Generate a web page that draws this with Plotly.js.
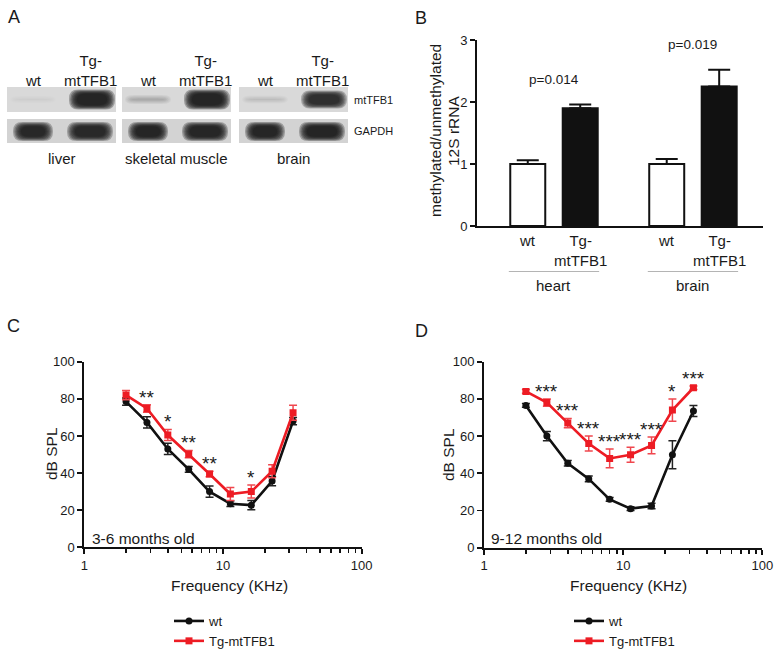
<!DOCTYPE html>
<html><head><meta charset="utf-8">
<script src="https://cdn.plot.ly/plotly-3.0.1.min.js"></script>
<style>html,body{margin:0;padding:0;background:#fff}#chart{width:779px;height:668px}</style>
</head><body><div id="chart"></div>
<script>
// ---------- Panel A: western blot band intensities (0 = none, 1 = saturated) ----------
const blotTissues = ['liver', 'skeletal muscle', 'brain'];
const blotLanes = ['wt', 'Tg-<br>mtTFB1'];
const blotProteins = ['mtTFB1', 'GAPDH'];
const mtTFB1_wt = [0.03, 0.14, 0.07];
const mtTFB1_tg = [1.0, 1.0, 0.85];
const gapdh_wt = [0.92, 0.97, 0.95];
const gapdh_tg = [0.9, 0.95, 0.97];

// ---------- Panel B: methylated/unmethylated 12S rRNA ----------
const rnaTissues = ['heart', 'brain'];
const rnaGenotypes = ['wt', 'Tg-<br>mtTFB1'];
const rna_wt = [1.0, 1.0];
const rna_wt_err = [0.06, 0.08];
const rna_tg = [1.9, 2.25];
const rna_tg_err = [0.06, 0.27];
const rna_p = ['p=0.014', 'p=0.019'];

// ---------- Panels C & D: ABR thresholds ----------
const freqKHz = [2, 2.83, 4, 5.66, 8, 11.3, 16, 22.6, 32];
const C_wt = [78.5, 67.3, 53, 42, 30, 23.5, 22.7, 35.7, 68];
const C_wt_err = [2, 3, 3, 1.5, 3, 1.5, 2.5, 2.5, 2];
const C_tg = [82, 74.8, 60.5, 50.2, 39.5, 28.7, 30, 41, 72.5];
const C_tg_err = [2.5, 2, 3, 2, 1.5, 3.5, 3.5, 3.5, 4];
const C_stars = ['', '**', '*', '**', '**', '', '*', '', ''];
const D_wt = [76.5, 60, 45.4, 37, 26, 21, 22.4, 50, 73.5];
const D_wt_err = [1, 2.5, 1.5, 1.5, 1, 1, 1.5, 7.5, 3];
const D_tg = [84, 78, 67, 56, 48, 50, 55, 74, 86];
const D_tg_err = [1, 2, 2.5, 4, 5, 4, 4.5, 6, 1];
const D_stars = ['', '***', '***', '***', '***', '***', '***', '*', '***'];
const seriesNames = ['wt', 'Tg-mtTFB1'];

// ---------- helpers ----------
const W = 779, H = 668;
const PX = x => x / W;
const PY = y => 1 - y / H;
const FONT = 'Liberation Sans, Arial, Helvetica, sans-serif';
const TXT = '#1a1a1a';
const RED = '#ed1c24';
const annotations = [];
const shapes = [];
function label(text, x, y, size, opts) {
  annotations.push(Object.assign({
    text: text, x: PX(x), y: PY(y), xref: 'paper', yref: 'paper',
    showarrow: false, xanchor: 'center', yanchor: 'middle',
    font: {family: FONT, size: size, color: TXT}
  }, opts || {}));
}

// ---------- Panel A drawing ----------
const stripLeft = [7, 122, 239];
const stripWidth = 109;
const laneOffset = [26, 83];
const rowTop = [87, 119];
const rowHeight = [25, 24];
const rowBg = ['#d9d9d9', '#d3d3d3'];
function roundRect(x0, y0, x1, y1, r) {
  const X = PX, Y = PY;
  const rx = Math.min(r, (x1 - x0) / 2), ry = Math.min(r, (y1 - y0) / 2);
  return 'M' + X(x0 + rx) + ',' + Y(y0) + ' L' + X(x1 - rx) + ',' + Y(y0) +
    ' Q' + X(x1) + ',' + Y(y0) + ' ' + X(x1) + ',' + Y(y0 + ry) +
    ' L' + X(x1) + ',' + Y(y1 - ry) +
    ' Q' + X(x1) + ',' + Y(y1) + ' ' + X(x1 - rx) + ',' + Y(y1) +
    ' L' + X(x0 + rx) + ',' + Y(y1) +
    ' Q' + X(x0) + ',' + Y(y1) + ' ' + X(x0) + ',' + Y(y1 - ry) +
    ' L' + X(x0) + ',' + Y(y0 + ry) +
    ' Q' + X(x0) + ',' + Y(y0) + ' ' + X(x0 + rx) + ',' + Y(y0) + ' Z';
}
function band(cx, cy, w, h, intensity) {
  if (intensity <= 0) return;
  const layers = 7;
  for (let k = 0; k < layers; k++) {
    const inset = k * 1.3;
    shapes.push({
      type: 'path', xref: 'paper', yref: 'paper', layer: 'above',
      path: roundRect(cx - w / 2 + inset, cy - h / 2 + inset * 0.55, cx + w / 2 - inset, cy + h / 2 - inset * 0.55, 9),
      fillcolor: 'rgba(22,22,22,' + (0.3 * intensity).toFixed(3) + ')',
      line: {width: 0}
    });
  }
}
const bandData = [[mtTFB1_wt, mtTFB1_tg], [gapdh_wt, gapdh_tg]];
blotTissues.forEach((t, i) => {
  const left = stripLeft[i];
  blotProteins.forEach((p, r) => {
    shapes.push({type: 'rect', xref: 'paper', yref: 'paper', layer: 'above',
      x0: PX(left), x1: PX(left + stripWidth), y0: PY(rowTop[r]), y1: PY(rowTop[r] + rowHeight[r]),
      fillcolor: rowBg[r], line: {width: 0}});
    blotLanes.forEach((lane, l) => {
      const v = bandData[r][l][i];
      const cx = left + laneOffset[l] + (r === 0 && l === 1 ? 2 : 0);
      const cy = rowTop[r] + rowHeight[r] / 2 + (r === 0 ? 0 : 0.5);
      const w = r === 0 ? 46 : (l === 0 ? 40 : 46);
      const h = r === 0 ? (7 + 13 * v) : 19;
      band(cx, cy, w, h, v);
    });
  });
  blotLanes.forEach((lane, l) => {
    const cx = left + laneOffset[l];
    if (l === 0) label(lane, cx, 80, 15);
    else label(lane, cx, 71, 15);
  });
  label(t, left + stripWidth / 2, 158, 15);
});
label(blotProteins[0], 352, 100, 11, {xanchor: 'left'});
label(blotProteins[1], 352, 131, 11, {xanchor: 'left'});

// ---------- Panel labels ----------
label('A', 14, 17, 18);
label('B', 421, 18, 18);
label('C', 13, 326, 18);
label('D', 421, 331, 18);

// ---------- Panel B ----------
const traces = [];
traces.push({type: 'bar', x: rnaTissues, y: rna_wt, name: rnaGenotypes[0], xaxis: 'x2', yaxis: 'y2',
  marker: {color: '#ffffff', line: {color: '#111', width: 2}},
  error_y: {type: 'data', array: rna_wt_err, arrayminus: rna_wt.map(() => 0), symmetric: false, color: '#111', thickness: 2, width: 11},
  showlegend: false, hoverinfo: 'skip'});
traces.push({type: 'bar', x: rnaTissues, y: rna_tg, name: rnaGenotypes[1], xaxis: 'x2', yaxis: 'y2',
  marker: {color: '#111', line: {color: '#111', width: 2}},
  error_y: {type: 'data', array: rna_tg_err, arrayminus: rna_tg.map(() => 0), symmetric: false, color: '#111', thickness: 2, width: 11},
  showlegend: false, hoverinfo: 'skip'});
const groupOffset = 0.189;
rnaTissues.forEach((t, i) => {
  annotations.push({text: rnaGenotypes[0], x: i - groupOffset, xref: 'x2', y: PY(241), yref: 'paper', showarrow: false,
    yanchor: 'middle', font: {family: FONT, size: 15, color: TXT}});
  annotations.push({text: rnaGenotypes[1], x: i + groupOffset, xref: 'x2', y: PY(250.5), yref: 'paper', showarrow: false,
    yanchor: 'middle', font: {family: FONT, size: 15, color: TXT}});
  annotations.push({text: t, x: i, xref: 'x2', y: PY(285), yref: 'paper', showarrow: false,
    yanchor: 'middle', font: {family: FONT, size: 15, color: TXT}});
  shapes.push({type: 'line', xref: 'x2', yref: 'paper', x0: i - 0.325, x1: i + 0.325, y0: PY(271.5), y1: PY(271.5),
    line: {color: '#b4b4b4', width: 1}});
  annotations.push({text: rna_p[i], x: i, xref: 'x2', y: Math.max(rna_wt[i] + rna_wt_err[i], rna_tg[i] + rna_tg_err[i]), yref: 'y2',
    yshift: 25, showarrow: false, yanchor: 'middle', font: {family: FONT, size: 13.5, color: TXT}});
});
label('methylated/unmethylated', 435, 131, 15.5, {textangle: -90});
label('12S rRNA', 453, 131, 15.5, {textangle: -90});

// ---------- Panels C & D ----------
function abrTraces(xa, ya, wt, wtErr, tg, tgErr, legendId) {
  traces.push({type: 'scatter', mode: 'lines+markers', x: freqKHz, y: wt, name: seriesNames[0], xaxis: xa, yaxis: ya,
    line: {color: '#111', width: 2.6}, marker: {symbol: 'circle', size: 7, color: '#111'},
    error_y: {type: 'data', array: wtErr, color: '#222', thickness: 1.5, width: 4},
    legend: legendId, hoverinfo: 'skip'});
  traces.push({type: 'scatter', mode: 'lines+markers', x: freqKHz, y: tg, name: seriesNames[1], xaxis: xa, yaxis: ya,
    line: {color: RED, width: 2.6}, marker: {symbol: 'square', size: 7, color: RED},
    error_y: {type: 'data', array: tgErr, color: '#f0474e', thickness: 1.5, width: 4},
    legend: legendId, hoverinfo: 'skip'});
}
abrTraces('x3', 'y3', C_wt, C_wt_err, C_tg, C_tg_err, 'legend');
abrTraces('x4', 'y4', D_wt, D_wt_err, D_tg, D_tg_err, 'legend2');
function stars(xa, ya, tg, tgErr, st) {
  st.forEach((s, i) => {
    if (!s) return;
    annotations.push({text: s, x: Math.log10(freqKHz[i]), xref: xa, y: tg[i] + tgErr[i], yref: ya,
      yanchor: 'bottom', yshift: -5, showarrow: false, font: {family: FONT, size: 19, color: TXT}});
  });
}
stars('x3', 'y3', C_tg, C_tg_err, C_stars);
stars('x4', 'y4', D_tg, D_tg_err, D_stars);
label('3-6 months old', 90, 538, 15.5, {xanchor: 'left'});
label('9-12 months old', 489, 538, 15.5, {xanchor: 'left'});
label('dB SPL', 51, 454, 15.5, {textangle: -90});
label('dB SPL', 449, 455, 15.5, {textangle: -90});
label('Frequency (KHz)', 229.5, 585, 15.5);
label('Frequency (KHz)', 628, 585, 15.5);

const axLine = {showline: true, linecolor: '#111', linewidth: 2, showgrid: false, zeroline: false,
  ticks: 'outside', ticklen: 5, tickwidth: 1.8, tickcolor: '#111',
  tickfont: {family: FONT, size: 13, color: TXT}};
function logX(domain, anchor) {
  return Object.assign({}, axLine, {domain: domain, anchor: anchor, type: 'log', range: [0, 2], dtick: 1,
    minor: {ticks: 'outside', ticklen: 4, tickwidth: 1.5, tickcolor: '#111', dtick: 'D1', showgrid: false}});
}
function dbY(domain, anchor) {
  return Object.assign({}, axLine, {domain: domain, anchor: anchor, range: [0, 100], dtick: 20});
}

const layout = {
  width: W, height: H, margin: {l: 0, r: 0, t: 0, b: 0},
  paper_bgcolor: '#fff', plot_bgcolor: 'rgba(0,0,0,0)',
  font: {family: FONT, color: TXT},
  barmode: 'group', bargap: 0.245, bargroupgap: 0.333,
  showlegend: true,
  xaxis: {domain: [0, 0.01], visible: false},
  yaxis: {domain: [0.99, 1], visible: false},
  xaxis2: Object.assign({}, axLine, {domain: [PX(477), PX(763)], anchor: 'y2', type: 'category',
    range: [-0.554, 1.504], ticks: '', showticklabels: false}),
  yaxis2: Object.assign({}, axLine, {domain: [PY(226), PY(40)], anchor: 'x2', range: [0, 3], dtick: 1}),
  xaxis3: logX([PX(84.3), PX(361.7)], 'y3'),
  yaxis3: dbY([PY(547.3), PY(361.7)], 'x3'),
  xaxis4: logX([PX(484), PX(762.3)], 'y4'),
  yaxis4: dbY([PY(547.7), PY(361.7)], 'x4'),
  legend: {x: PX(169), y: PY(606), xanchor: 'left', yanchor: 'top', bgcolor: 'rgba(0,0,0,0)',
    itemwidth: 30, tracegroupgap: 0, font: {family: FONT, size: 13, color: TXT}},
  legend2: {x: PX(569), y: PY(606), xanchor: 'left', yanchor: 'top', bgcolor: 'rgba(0,0,0,0)',
    itemwidth: 30, tracegroupgap: 0, font: {family: FONT, size: 13, color: TXT}},
  annotations: annotations,
  shapes: shapes
};
Plotly.newPlot('chart', traces, layout, {staticPlot: true, displayModeBar: false});
</script></body></html>
